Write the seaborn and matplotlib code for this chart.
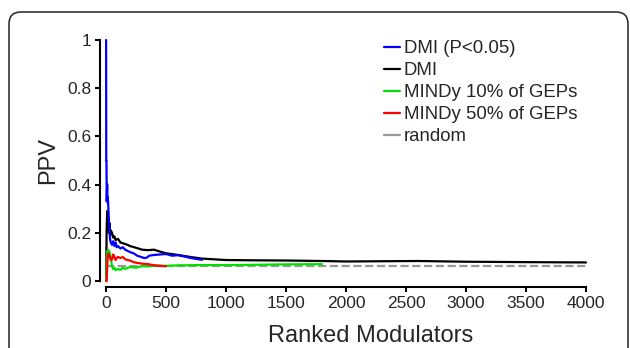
import pandas as pd
import matplotlib.pyplot as plt
import seaborn as sns
from matplotlib.patches import FancyBboxPatch

# ranks / PPV values
blue_rank = [1, 2, 4, 6, 8, 10, 12, 15, 20, 25, 30, 35, 40, 50, 60, 70, 80, 90, 100,
             120, 140, 160, 180, 200, 230, 260, 290, 320, 340, 360, 400, 450, 500,
             550, 600, 650, 700, 750, 800]
blue_ppv = [1.0, 0.5, 0.5, 0.33, 0.37, 0.4, 0.33, 0.35, 0.3, 0.24, 0.2, 0.17, 0.16,
            0.15, 0.165, 0.145, 0.16, 0.14, 0.145, 0.135, 0.14, 0.13, 0.125, 0.12,
            0.115, 0.105, 0.1, 0.095, 0.097, 0.105, 0.108, 0.11, 0.112, 0.105, 0.107,
            0.102, 0.096, 0.092, 0.088]

black_rank = [1, 5, 10, 15, 20, 25, 30, 35, 40, 50, 60, 70, 80, 100, 120, 150, 180,
              200, 250, 300, 350, 400, 450, 500, 600, 700, 800, 900, 1000, 1200,
              1500, 1800, 2000, 2300, 2600, 3000, 3300, 3600, 4000]
black_ppv = [0.0, 0.2, 0.29, 0.22, 0.26, 0.2, 0.24, 0.19, 0.21, 0.2, 0.18, 0.185,
             0.17, 0.175, 0.16, 0.155, 0.15, 0.145, 0.138, 0.13, 0.128, 0.13, 0.122,
             0.115, 0.108, 0.1, 0.093, 0.09, 0.087, 0.086, 0.085, 0.083, 0.081,
             0.082, 0.083, 0.08, 0.079, 0.078, 0.077]

green_rank = [1, 5, 10, 15, 20, 30, 40, 50, 60, 70, 80, 100, 120, 140, 160, 200, 250,
              300, 350, 400, 500, 600, 800, 1000, 1200, 1500, 1800]
green_ppv = [0.0, 0.08, 0.125, 0.12, 0.128, 0.12, 0.1, 0.06, 0.05, 0.055, 0.045,
             0.05, 0.046, 0.055, 0.05, 0.058, 0.055, 0.062, 0.06, 0.064, 0.063,
             0.065, 0.066, 0.066, 0.067, 0.069, 0.07]

red_rank = [1, 5, 10, 15, 20, 30, 40, 50, 60, 70, 80, 90, 100, 120, 140, 160, 180,
            200, 230, 260, 300, 350, 400, 450, 500]
red_ppv = [0.0, 0.0, 0.06, 0.11, 0.115, 0.1, 0.087, 0.09, 0.11, 0.1, 0.087, 0.095,
           0.1, 0.095, 0.1, 0.09, 0.087, 0.085, 0.078, 0.075, 0.072, 0.07, 0.065,
           0.063, 0.061]

random_rank = [0, 4000]
random_ppv = [0.063, 0.063]

series = [
    ("random", random_rank, random_ppv, "#999999", "--"),
    ("DMI", black_rank, black_ppv, "black", "-"),
    ("MINDy 10% of GEPs", green_rank, green_ppv, "#00e000", "-"),
    ("MINDy 50% of GEPs", red_rank, red_ppv, "#ff0000", "-"),
    ("DMI (P<0.05)", blue_rank, blue_ppv, "#0000ff", "-"),
]
legend_order = ["DMI (P<0.05)", "DMI", "MINDy 10% of GEPs", "MINDy 50% of GEPs", "random"]

sns.set_style("ticks")
plt.rcParams['font.family'] = ['Liberation Sans', 'DejaVu Sans']

fig = plt.figure(figsize=(6.3, 3.48), dpi=100)
ax = fig.add_axes([106 / 630, 1 - 281 / 348, 480 / 630, 241 / 348])

for name, xs, ys, col, ls in series:
    df = pd.DataFrame({"rank": xs, "ppv": ys})
    sns.lineplot(data=df, x="rank", y="ppv", ax=ax, color=col, linestyle=ls,
                 linewidth=1.6, label=name, estimator=None, sort=False,
                 clip_on=False)

ax.set_xlim(0, 4000)
ax.set_ylim(0, 1)
ax.set_xticks(range(0, 4001, 500))
ax.set_yticks([0, 0.2, 0.4, 0.6, 0.8, 1])
ax.set_yticklabels(["0", "0.2", "0.4", "0.6", "0.8", "1"])
ax.tick_params(labelsize=12.5, width=1.5, length=3.6, pad=2.5, color="black")
for s in ["left", "bottom"]:
    ax.spines[s].set_linewidth(1.5)
    ax.spines[s].set_color("black")
sns.despine(ax=ax, offset=4.5)

ax.set_xlabel("Ranked Modulators", fontsize=17)
ax.set_ylabel("PPV", fontsize=17)
ax.xaxis.set_label_coords(0.552, -0.183)
ax.yaxis.set_label_coords(-0.098, 0.5)

handles, labels = ax.get_legend_handles_labels()
hmap = dict(zip(labels, handles))
leg = ax.legend([hmap[l] for l in legend_order], legend_order, loc="upper left",
                bbox_to_anchor=(384 / 630, 1 - 40 / 348), bbox_transform=fig.transFigure,
                frameon=False, fontsize=13.4, handlelength=0.85, handletextpad=0.2,
                labelspacing=0.27, borderpad=0, borderaxespad=0)
leg.get_lines()[-1].set_linestyle("-")

frame = FancyBboxPatch((0.09, -2.0), 6.19, 5.36, boxstyle="round,pad=0,rounding_size=0.12",
                       transform=fig.dpi_scale_trans, fill=False, edgecolor="#333333",
                       linewidth=1.2)
fig.patches.append(frame)

fig.savefig("out.png", dpi=100)
